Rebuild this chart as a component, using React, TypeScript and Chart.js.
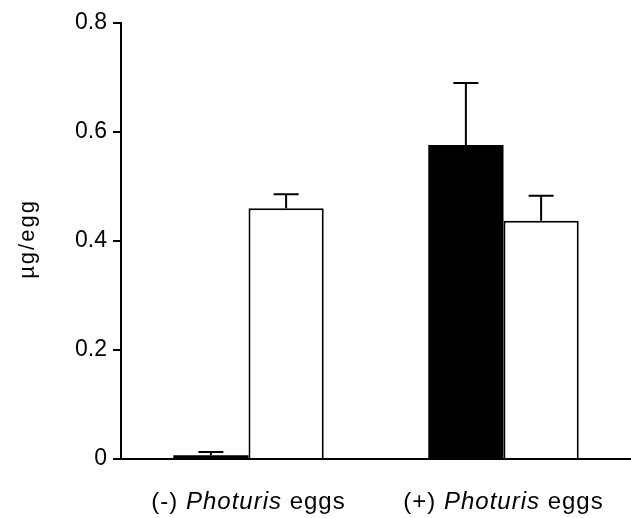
import React, { useEffect, useRef } from "react";
import { Chart, registerables } from "chart.js";

Chart.register(...registerables);

const labelPrefixes = ["(-) ", "(+) "];
const labelItalic = "Photuris";
const labelSuffix = " eggs";
const categories = labelPrefixes.map((p) => p + labelItalic + labelSuffix);

const filledValues = [0.007, 0.576];
const filledErrors = [0.006, 0.114];
const openValues = [0.46, 0.437];
const openErrors = [0.026, 0.046];

const yTicks = [0, 0.2, 0.4, 0.6, 0.8];
const yTitle = "µg/egg";

const FONT = "'Liberation Sans', Arial, Helvetica, sans-serif";

const customPlugin = {
  id: "customDraw",
  afterDatasetsDraw(chart: any) {
    const ctx = chart.ctx;
    const yScale = chart.scales.y;
    const xScale = chart.scales.x;
    const errs = [filledErrors, openErrors];
    const vals = [filledValues, openValues];
    ctx.save();
    ctx.strokeStyle = "#000";
    ctx.lineWidth = 2;
    for (let d = 0; d < 2; d++) {
      const meta = chart.getDatasetMeta(d);
      meta.data.forEach((el: any, j: number) => {
        const x = el.x;
        const yTop = yScale.getPixelForValue(vals[d][j] + errs[d][j]);
        const yBar = el.y;
        ctx.beginPath();
        ctx.moveTo(x, yBar);
        ctx.lineTo(x, yTop);
        ctx.moveTo(x - 12.5, yTop);
        ctx.lineTo(x + 12.5, yTop);
        ctx.stroke();
      });
    }
    // x labels with italic genus
    ctx.fillStyle = "#000";
    ctx.textBaseline = "alphabetic";
    ctx.textAlign = "left";
    (ctx as any).letterSpacing = "1px";
    const normal = `24px ${FONT}`;
    const italic = `italic 24px ${FONT}`;
    categories.forEach((_, j) => {
      const cx = xScale.getPixelForValue(j);
      const parts = [
        { t: labelPrefixes[j], f: normal },
        { t: labelItalic, f: italic },
        { t: labelSuffix, f: normal },
      ];
      let total = 0;
      const widths = parts.map((p) => {
        ctx.font = p.f;
        const w = ctx.measureText(p.t).width;
        total += w;
        return w;
      });
      let x = cx - total / 2;
      parts.forEach((p, i) => {
        ctx.font = p.f;
        ctx.fillText(p.t, x, 509);
        x += widths[i];
      });
    });
    // y title
    ctx.translate(28, 239);
    ctx.rotate(-Math.PI / 2);
    ctx.textAlign = "center";
    ctx.textBaseline = "middle";
    (ctx as any).letterSpacing = "2px";
    ctx.font = `22px ${FONT}`;
    ctx.fillText(yTitle, 0, 0);
    ctx.restore();
  },
};

export default function App() {
  const ref = useRef<HTMLCanvasElement | null>(null);
  useEffect(() => {
    if (!ref.current) return;
    const chart = new Chart(ref.current, {
      type: "bar",
      data: {
        labels: categories,
        datasets: [
          {
            data: filledValues,
            backgroundColor: "#000",
            borderColor: "#000",
            borderWidth: 0,
            barPercentage: 1,
            categoryPercentage: 0.59,
          },
          {
            data: openValues,
            backgroundColor: "#fff",
            borderColor: "#000",
            borderWidth: 2,
            barPercentage: 1,
            categoryPercentage: 0.59,
          },
        ],
      },
      options: {
        responsive: false,
        animation: false,
        events: [],
        layout: { padding: { top: 23, right: 0, left: 0, bottom: 0 } },
        plugins: {
          legend: { display: false },
          tooltip: { enabled: false },
          title: { display: false },
        },
        scales: {
          x: {
            type: "category",
            offset: true,
            grid: { display: false, drawTicks: false },
            border: { display: true, color: "#000", width: 2 },
            ticks: { display: false },
            afterFit: (s: any) => {
              s.height = 59;
            },
          },
          y: {
            type: "linear",
            min: 0,
            max: 0.8,
            afterBuildTicks: (s: any) => {
              s.ticks = yTicks.map((v) => ({ value: v }));
            },
            ticks: {
              color: "#000",
              padding: 6,
              font: { family: FONT, size: 23 },
              callback: (v: any) => (Number(v) === 0 ? "0" : Number(v).toFixed(1)),
            },
            grid: {
              display: true,
              drawOnChartArea: false,
              drawTicks: true,
              tickLength: 8,
              color: "#000",
              lineWidth: 2,
            },
            border: { display: true, color: "#000", width: 2 },
            afterFit: (s: any) => {
              s.width = 121;
            },
          },
        },
      },
      plugins: [customPlugin],
    });
    return () => chart.destroy();
  }, []);
  return (
    <div style={{ position: "fixed", left: 0, top: 0, width: 631, height: 518, background: "#fff" }}>
      <canvas ref={ref} width={631} height={518} style={{ display: "block" }} />
    </div>
  );
}
